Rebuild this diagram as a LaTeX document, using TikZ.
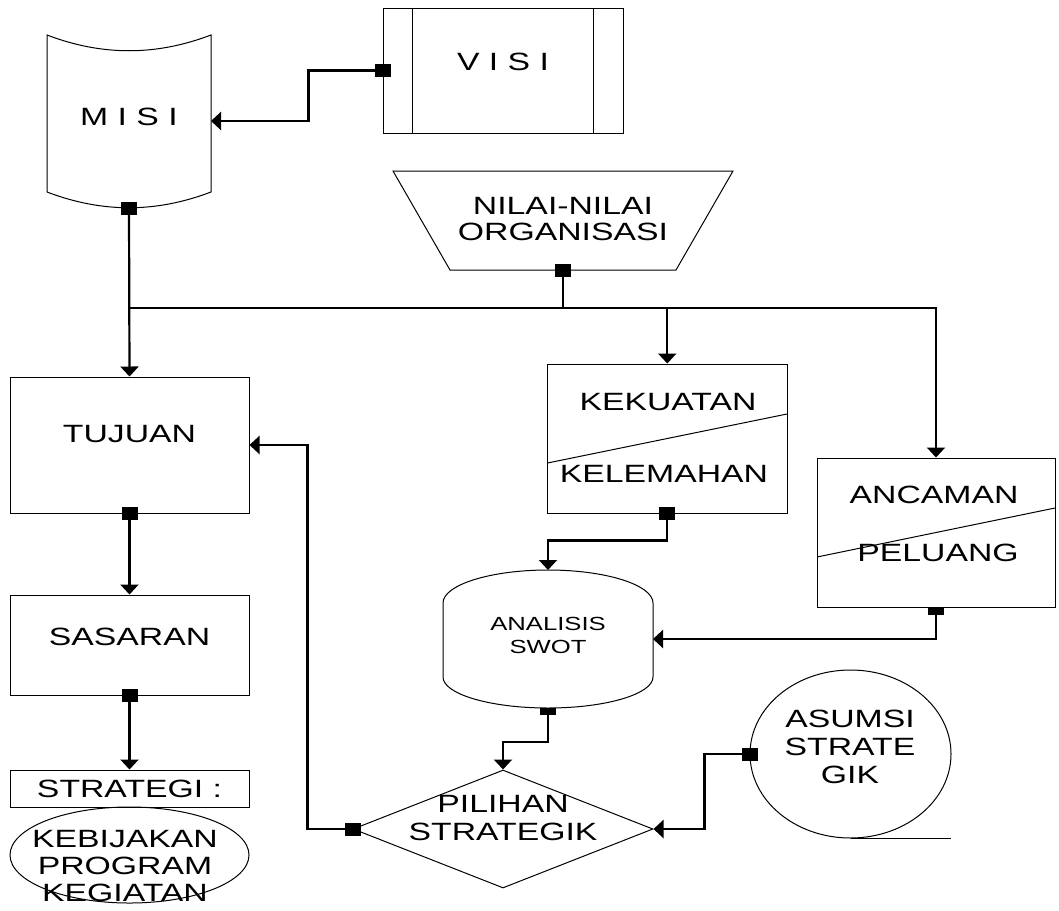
\documentclass[tikz,border=0pt]{standalone}
\usepackage{fontspec}
\setmainfont[FakeStretch=1.35]{Liberation Sans}
\usepackage{tikz}
\usetikzlibrary{calc,arrows.meta,shapes.geometric}
\def\blok(#1){\fill[black] ($(#1)+(-8,-6.5)$) rectangle ($(#1)+(8,6.5)$);}
\def\halfblok(#1){\fill[black] ($(#1)+(-8,0)$) rectangle ($(#1)+(8,7)$);}
\tikzset{
	box/.style={draw, line width=0.5pt, inner sep=0pt},
	link/.style={line width=1.1pt, -{Triangle[width=9pt,length=5pt]}},
	wire/.style={line width=1.1pt}
}

\begin{document}
\begin{tikzpicture}[x=0.5pt, y=-0.5pt, font=\fontsize{12.5}{14}\selectfont]
			%%%%% START %%%%%
			\useasboundingbox (0,0) rectangle (1059,910);
			
			\draw[line width=0.5pt] (47,35) .. controls (102,56) and (156,56) .. (211,35) -- (211,192) .. controls (156,213) and (102,213) .. (47,192) -- cycle;
			\node (misi) at (129,117) {M I S I};
			\coordinate (misiE) at (211,121);
			\coordinate (misiS) at (129,208);
			
			\node[box, minimum width=120pt, minimum height=62.5pt] (visi) at (503,70.5) {};
			\draw[line width=0.5pt] ([xshift=15pt]visi.north west) -- ([xshift=15pt]visi.south west);
			\draw[line width=0.5pt] ([xshift=-15pt]visi.north east) -- ([xshift=-15pt]visi.south east);
			\node (visitxt) at (503,62) {V I S I};
			
			\draw[line width=0.5pt] (393,171) -- (733,171) -- (676,270) -- (450,270) -- cycle;
			\node[align=center, font=\fontsize{12.5}{13}\selectfont] (nilai) at (563,219) {NILAI-NILAI\\ORGANISASI};
			\coordinate (nilaiS) at (563,270);
			\coordinate (bus) at (129,308);
			
			\node[box, minimum width=119.5pt, minimum height=68pt] (tujuan) at (129.5,445) {};
			\node (tujuantxt) at ([yshift=5.5pt]tujuan.center) {TUJUAN};
			
			\node[box, minimum width=119.5pt, minimum height=50pt] (sasaran) at (129.5,645) {};
			\node (sasarantxt) at ([yshift=4.25pt]sasaran.center) {SASARAN};
			
			\node[box, minimum width=119.5pt, minimum height=18.5pt] (strategi) at (129.5,788.5) {STRATEGI :};
			\node[ellipse, draw, line width=0.5pt, minimum width=119.5pt, minimum height=48pt, inner sep=0pt] (kebijakan) at (129.5,855) {};
			\node[align=center, font=\fontsize{12.5}{13.5}\selectfont] (kebijakantxt) at (125,866) {KEBIJAKAN\\PROGRAM\\KEGIATAN};
			
			\node[box, minimum width=119.75pt, minimum height=74.5pt] (kekuatan) at (667.25,438.5) {};
			\draw[line width=0.5pt] (547.5,463) -- (787,414);
			\node (kekuatantxt) at (668,402) {KEKUATAN};
			\node (kelemahantxt) at (664,474) {KELEMAHAN};
			
			\node[box, minimum width=119pt, minimum height=74.5pt] (ancaman) at (936,532.5) {};
			\draw[line width=0.5pt] (817,557) -- (1055,508);
			\node (ancamantxt) at (934,495) {ANCAMAN};
			\node (peluangtxt) at (938,553) {PELUANG};
			
			\draw[line width=0.5pt] (443,603) .. controls (443,585) and (490,570) .. (548,570) .. controls (606,570) and (653,585) .. (653,603) -- (653,677) .. controls (653,694) and (606,708) .. (548,708) .. controls (490,708) and (443,694) .. (443,677) -- cycle;
			\node[align=center, font=\fontsize{9.5}{11.5}\selectfont] (swot) at (548,635) {ANALISIS\\SWOT};
			\coordinate (swotN) at (548,570);
			\coordinate (swotE) at (653,639);
			\coordinate (swotS) at (548,708);
			
			\node[diamond, draw, line width=0.5pt, minimum width=150pt, minimum height=59pt, inner sep=0pt] (pilihan) at (503,829) {};
			\node[align=center] (pilihantxt) at (503,818) {PILIHAN\\STRATEGIK};
			
			\node[ellipse, draw, line width=0.5pt, minimum width=100.5pt, minimum height=84pt, inner sep=0pt] (asumsi) at (850.5,754) {};
			\draw[line width=0.5pt] (asumsi.south) -- ++(100,0);
			\node[align=center] (asumsitxt) at (850,747) {ASUMSI\\STRATE\\GIK};
			
			\draw[link] (visi.west) -- ++(-74,0) |- (misiE);
			\draw[link] (misiS) -- (tujuan.north);
			\draw[wire] (nilaiS) -- (nilaiS |- bus);
			\draw[link] (bus) -| (ancaman.north);
			\draw[link] (kekuatan.north |- bus) -- (kekuatan.north);
			\draw[link] (tujuan.south) -- (sasaran.north);
			\draw[link] (sasaran.south) -- (strategi.north);
			\draw[link] (kekuatan.south) -- ++(0,27) -| (swotN);
			\draw[link] (ancaman.south) |- (swotE);
			\draw[link] (swotS) -- ++(0,34) -| (pilihan.north);
			\draw[link] (asumsi.west) -- ++(-45,0) |- (pilihan.east);
			\draw[link] (pilihan.west) -- ++(-45,0) |- (tujuan.east);
			
			\blok(misiS) \blok(visi.west) \blok(nilaiS) \blok(tujuan.south) \blok(sasaran.south)
			\blok(kekuatan.south) \blok(pilihan.west) \blok(asumsi.west)
			\halfblok(ancaman.south) \halfblok(swotS)
			%%%%% END %%%%%
		\end{tikzpicture}
\end{document}
